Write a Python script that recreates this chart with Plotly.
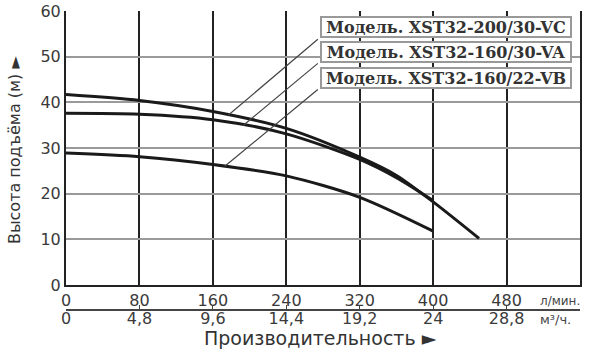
import numpy as np
import plotly.graph_objects as go

# ---- data ----
flow_vc = [0, 80, 160, 240, 320, 360, 400, 450]
head_vc = [41.7, 40.4, 38.0, 34.3, 28.0, 24.0, 18.2, 10.2]
flow_va = [0, 80, 160, 240, 320, 360, 400]
head_va = [37.6, 37.4, 36.2, 33.1, 27.5, 23.5, 18.5]
flow_vb = [0, 80, 160, 240, 320, 400]
head_vb = [28.9, 28.1, 26.4, 23.9, 19.2, 11.8]

model_names = ["Модель. XST32-200/30-VC", "Модель. XST32-160/30-VA", "Модель. XST32-160/22-VB"]
label_y = [56.6, 51.0, 45.4]          # centre of each label box (head, m)
leader_top_y = [54.1, 48.8, 43.1]     # upper end of leader lines
leader_flow = [177, 193, 173]         # where leaders touch the curves (l/min)
label_flow = 414
leader_top_flow = 276

lmin_ticks = [0, 80, 160, 240, 320, 400, 480]
lmin_text = ["0", "80", "160", "240", "320", "400", "480"]
m3h_ticks = [0, 4.8, 9.6, 14.4, 19.2, 24, 28.8]
m3h_text = ["0", "4,8", "9,6", "14,4", "19,2", "24", "28,8"]
head_ticks = [0, 10, 20, 30, 40, 50, 60]

curves = [(flow_vc, head_vc), (flow_va, head_va), (flow_vb, head_vb)]

fig = go.Figure()
for fx, hy in curves:
    fig.add_trace(go.Scatter(x=fx, y=hy, mode="lines",
                             line=dict(color="#1a1a1a", width=3, shape="spline", smoothing=0.8),
                             showlegend=False, hoverinfo="skip"))
# dummy trace so the m3/h axis is drawn
fig.add_trace(go.Scatter(x=[0], y=[0], xaxis="x2", yaxis="y", mode="markers",
                         marker=dict(opacity=0), showlegend=False, hoverinfo="skip"))

tickfont = dict(family="DejaVu Sans", size=16, color="#3a3a3a")

# leader lines and label boxes
for (fx, hy), name, ly, lty, lf in zip(curves, model_names, label_y, leader_top_y, leader_flow):
    cy = float(np.interp(lf, fx, hy))
    fig.add_annotation(x=lf, y=cy, xref="x", yref="y", ax=leader_top_flow, ay=lty,
                       axref="x", ayref="y", text="", showarrow=True, arrowhead=0,
                       arrowwidth=1.2, arrowcolor="#444")
    fig.add_annotation(x=label_flow, y=ly, xref="x", yref="y", text="<b>%s</b>" % name,
                       showarrow=False, font=dict(family="DejaVu Serif", size=16, color="#333"),
                       bgcolor="white", bordercolor="#999", borderwidth=2, borderpad=1,
                       width=246, height=16, align="center")

fig.add_annotation(x=538, y=0.1317, xref="x", yref="paper", yanchor="middle", text="л/мин.",
                   showarrow=False, font=dict(family="DejaVu Sans", size=12, color="#444"))
fig.add_annotation(x=533, y=0.075, xref="x", yref="paper", yanchor="middle", text="м³/ч.",
                   showarrow=False, font=dict(family="DejaVu Sans", size=13, color="#444"))
fig.add_annotation(x=0.496, y=0.021, xref="paper", yref="paper", yanchor="middle",
                   text="Производительность ►",
                   showarrow=False, font=dict(family="DejaVu Sans", size=19, color="#333"))
fig.add_annotation(x=-0.099, y=0.584, xref="paper", yref="paper", xanchor="center", yanchor="middle",
                   text="Высота подъёма (м) ►",
                   textangle=-90, showarrow=False, font=dict(family="DejaVu Sans", size=16, color="#333"))

fig.update_layout(
    width=597, height=350,
    margin=dict(l=66, r=17, t=11, b=5, autoexpand=False),
    paper_bgcolor="white", plot_bgcolor="white",
    xaxis=dict(range=[0, 560], tickvals=lmin_ticks, ticktext=lmin_text, showgrid=True,
               gridcolor="#222", gridwidth=1.5, showline=True, linecolor="#222", linewidth=2,
               zeroline=False, ticks="", tickfont=tickfont, anchor="y", automargin=False),
    xaxis2=dict(range=[0, 33.6], tickvals=m3h_ticks, ticktext=m3h_text, overlaying="x",
                anchor="free", position=0.1048, showgrid=False, showline=True, linecolor="#444",
                linewidth=2, zeroline=False, ticks="inside", ticklen=4, tickcolor="#444",
                tickfont=tickfont, side="bottom", automargin=False, ticklabelstandoff=-6),
    yaxis=dict(range=[0, 60], tickvals=head_ticks, domain=[0.1796, 1], showgrid=True,
               gridcolor="#9a9a9a", gridwidth=2, showline=True, linecolor="#222", linewidth=2,
               mirror=True, zeroline=False, ticks="", tickfont=tickfont, automargin=False),
)

fig.write_html("out.html")
